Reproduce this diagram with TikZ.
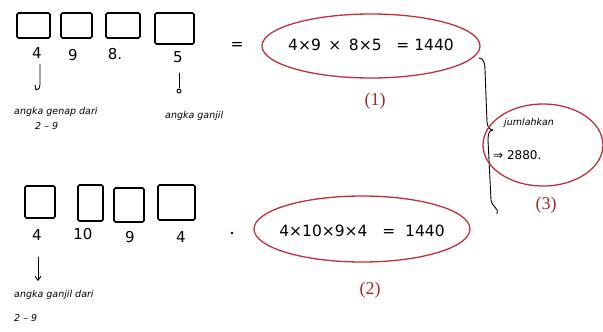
\documentclass[tikz,border=0pt]{standalone}
\usepackage{fontspec}
\setmainfont{Liberation Serif}
\newfontfamily\handfont{DejaVu Sans}
\usetikzlibrary{arrows.meta,shapes.geometric}
\definecolor{ovalred}{HTML}{C22F3A}
\definecolor{labred}{HTML}{9E2A2E}
\tikzset{
  digitbox/.style={draw=black, line width=1.6pt, rounded corners=1.5pt},
  digit/.style={font=\handfont\fontsize{15}{15}\selectfont, inner sep=1pt},
  eqtext/.style={font=\handfont\fontsize{15.5}{16}\selectfont, inner sep=1pt},
  smalltext/.style={font=\handfont\itshape\fontsize{9.5}{10}\selectfont, inner sep=1pt, anchor=west},
  oval/.style={draw=ovalred, line width=1.3pt, ellipse},
  numlab/.style={font=\fontsize{18}{18}\selectfont, text=labred, inner sep=1pt},
  pen/.style={draw=black, line width=0.9pt, line cap=round}
}
\begin{document}
\begin{tikzpicture}[x=1pt,y=-1pt]
\useasboundingbox (0,0) rectangle (603,332);
% Row 1 boxes
\draw[digitbox] (17,13) rectangle (50,38);
\draw[digitbox] (61,13) rectangle (92,38);
\draw[digitbox] (106,13) rectangle (140,38);
\draw[digitbox] (155,13) rectangle (194,44);
\node[digit] (a1) at (37,53) {4};
\node[digit] (a2) at (73,55) {9};
\node[digit] (a3) at (115,54) {8.};
\node[digit] (a4) at (178,57) {5};
\draw[pen] (40,64) -- (40,85) to[out=-90,in=0] (36,90) -- (35,85);
\draw[pen] (179,73) -- (179,88);
\draw[pen] (179,91) circle (2);
\node[smalltext] (l1) at (13,112) {angka genap dari};
\node[smalltext] (l1b) at (34,126) {2 – 9};
\node[smalltext] (l2) at (164,116) {angka ganjil};
\node[eqtext] (eq1) at (237,46) {=};
% Oval 1
\node[oval, minimum width=218, minimum height=64] (o1) at (371,46) {};
\node[eqtext] (e1) at (371,45) {4×9 \,×\, 8×5 \ \ = 1440};
\node[numlab] (n1) at (375,101) {(1)};
% Row 2 boxes
\draw[digitbox] (25,186) rectangle (55,218);
\draw[digitbox] (78,185) rectangle (103,221);
\draw[digitbox] (114,188) rectangle (144,222);
\draw[digitbox] (158,185) rectangle (195,220);
\node[digit] (b1) at (37,235) {4};
\node[digit] (b2) at (83,234) {10};
\node[digit] (b3) at (130,237) {9};
\node[digit] (b4) at (181,237) {4};
\draw[pen, -{Straight Barb[length=4pt,width=6pt]}] (38,257) -- (38,281);
\node[smalltext] (l3) at (13,295) {angka ganjil dari};
\node[smalltext] (l3b) at (13,318) {2 – 9};
\node[circle, fill=black, inner sep=0.9pt] (dot) at (232,233) {};
% Oval 2
\node[oval, minimum width=216, minimum height=66] (o2) at (362,229) {};
\node[eqtext] (e2) at (362,231) {4×10×9×4 \ \ = \ 1440};
\node[numlab] (n2) at (370,290) {(2)};
% Brace
\coordinate (br0) at (479,58);
\coordinate (brm) at (493,130);
\coordinate (br1) at (497,214);
\draw[pen] (br0) to[out=0,in=90] (485,70) -- (487,122) to[out=-85,in=180] (brm)
  (brm) to[out=180,in=90] (488,140) -- (491,200) to[out=-90,in=60] (br1);
% Oval 3
\node[oval, minimum width=120, minimum height=82] (o3) at (543,145) {};
\node[smalltext] (j1) at (503,123) {jumlahkan};
\node[eqtext, anchor=west, font=\handfont\fontsize{12}{12}\selectfont] (j2) at (492,155) {⇒ 2880.};
\node[numlab] (n3) at (546,205) {(3)};
\end{tikzpicture}
\end{document}
